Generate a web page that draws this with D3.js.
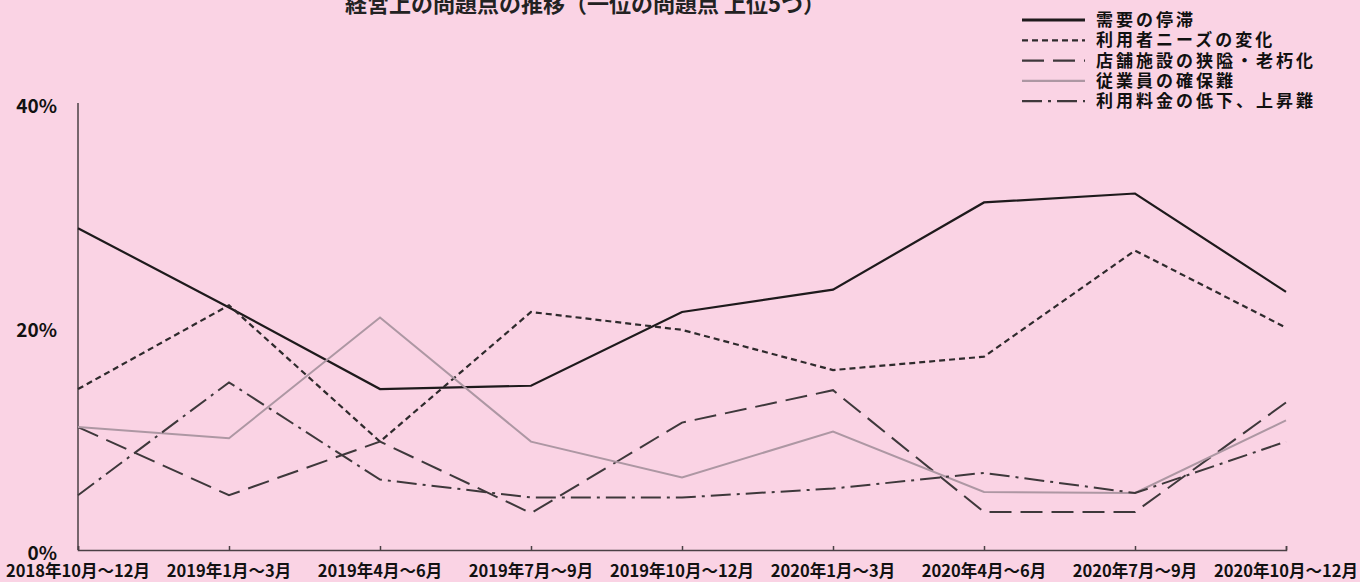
<html>
<meta charset="utf-8">
<head>
	<title>経営上の問題点の推移</title>
	<script src="https://d3js.org/d3.v7.min.js"></script>
</head>
<body style="margin:0;background:#fad3e4">
<svg id="chart" height="582" width="1360"></svg>

<script>
	var periods = ["2018年10月～12月", "2019年1月～3月", "2019年4月～6月", "2019年7月～9月",
		"2019年10月～12月", "2020年1月～3月", "2020年4月～6月", "2020年7月～9月", "2020年10月～12月"];

	var seriesNames = ["需要の停滞", "利用者ニーズの変化", "店舗施設の狭隘・老朽化", "従業員の確保難", "利用料金の低下、上昇難"];

	// values in %
	var demand   = [28.8, 21.7, 14.4, 14.7, 21.3, 23.3, 31.1, 31.9, 23.1];
	var needs    = [14.4, 21.9, 9.7, 21.3, 19.7, 16.1, 17.3, 26.8, 19.9];
	var facility = [11.0, 4.9, 9.7, 3.3, 11.4, 14.3, 3.4, 3.4, 13.2];
	var staff    = [11.0, 10.0, 20.8, 9.7, 6.5, 10.6, 5.2, 5.1, 11.6];
	var price    = [4.9, 15.0, 6.3, 4.7, 4.7, 5.5, 6.9, 5.1, 9.7];

	var yTicks = [0, 20, 40];

	var svg = d3.select("#chart");
	var font = "'Noto Sans CJK JP', 'Noto Sans', sans-serif";

	var x = d3.scalePoint().domain(periods).range([78, 1286]);
	var y = d3.scaleLinear().domain([0, 40]).range([550, 103]);

	var styles = [
		{ color: "#1e1a1c", width: 2.2, dash: null },
		{ color: "#2e2a2c", width: 2.2, dash: "6,4" },
		{ color: "#3e383b", width: 2, dash: "22,9" },
		{ color: "#ad97a3", width: 2, dash: null },
		{ color: "#3e383b", width: 2, dash: "20,6,3,6" }
	];
	var data = [demand, needs, facility, staff, price];

	// title (top is clipped in the original)
	svg.append("text")
		.attr("x", 345)
		.attr("y", 12)
		.attr("font-family", font)
		.attr("font-weight", "bold")
		.attr("font-size", 22)
		.attr("fill", "#222")
		.text("経営上の問題点の推移（一位の問題点 上位5つ）");

	// axes
	var xAxis = d3.axisBottom(x).tickSize(-4).tickFormat("");
	var gx = svg.append("g").attr("transform", "translate(0," + y(0) + ")").call(xAxis);
	gx.selectAll("path, line").attr("stroke", "#4a4045").attr("stroke-width", 1.5);

	svg.append("line")
		.attr("x1", x(periods[0])).attr("x2", x(periods[0]))
		.attr("y1", y(40)).attr("y2", y(0))
		.attr("stroke", "#4a4045").attr("stroke-width", 1.5);

	svg.selectAll("text.ylab").data(yTicks).enter()
		.append("text")
		.attr("class", "ylab")
		.attr("x", 57)
		.attr("y", function (d) { return y(d) + 10; })
		.attr("text-anchor", "end")
		.attr("font-family", font)
		.attr("font-weight", "bold")
		.attr("font-size", 19)
		.attr("fill", "#111")
		.text(function (d) { return d + "%"; });

	svg.selectAll("text.xlab").data(periods).enter()
		.append("text")
		.attr("class", "xlab")
		.attr("x", function (d) { return x(d); })
		.attr("y", 577)
		.attr("text-anchor", "middle")
		.attr("font-family", font)
		.attr("font-weight", "bold")
		.attr("font-size", 16.5)
		.attr("fill", "#111")
		.text(function (d) { return d; });

	// lines
	var line = d3.line()
		.x(function (d, i) { return x(periods[i]); })
		.y(function (d) { return y(d); });

	svg.selectAll("path.series").data(data).enter()
		.append("path")
		.attr("class", "series")
		.attr("fill", "none")
		.attr("stroke", function (d, i) { return styles[i].color; })
		.attr("stroke-width", function (d, i) { return styles[i].width; })
		.attr("stroke-dasharray", function (d, i) { return styles[i].dash; })
		.attr("d", line);

	// legend
	var legend = svg.selectAll("g.legend").data(seriesNames).enter()
		.append("g")
		.attr("class", "legend")
		.attr("transform", function (d, i) { return "translate(1022," + (20 + i * 20.3) + ")"; });

	legend.append("line")
		.attr("x1", 0).attr("x2", 63)
		.attr("stroke", function (d, i) { return styles[i].color; })
		.attr("stroke-width", function (d, i) { return i === 0 ? 3 : 2.2; })
		.attr("stroke-dasharray", function (d, i) { return styles[i].dash; });

	legend.append("text")
		.attr("x", 74)
		.attr("y", 6)
		.attr("font-family", font)
		.attr("font-weight", "bold")
		.attr("font-size", 17)
		.attr("letter-spacing", 3)
		.attr("fill", "#111")
		.text(function (d) { return d; });
</script>
</body>
</html>
